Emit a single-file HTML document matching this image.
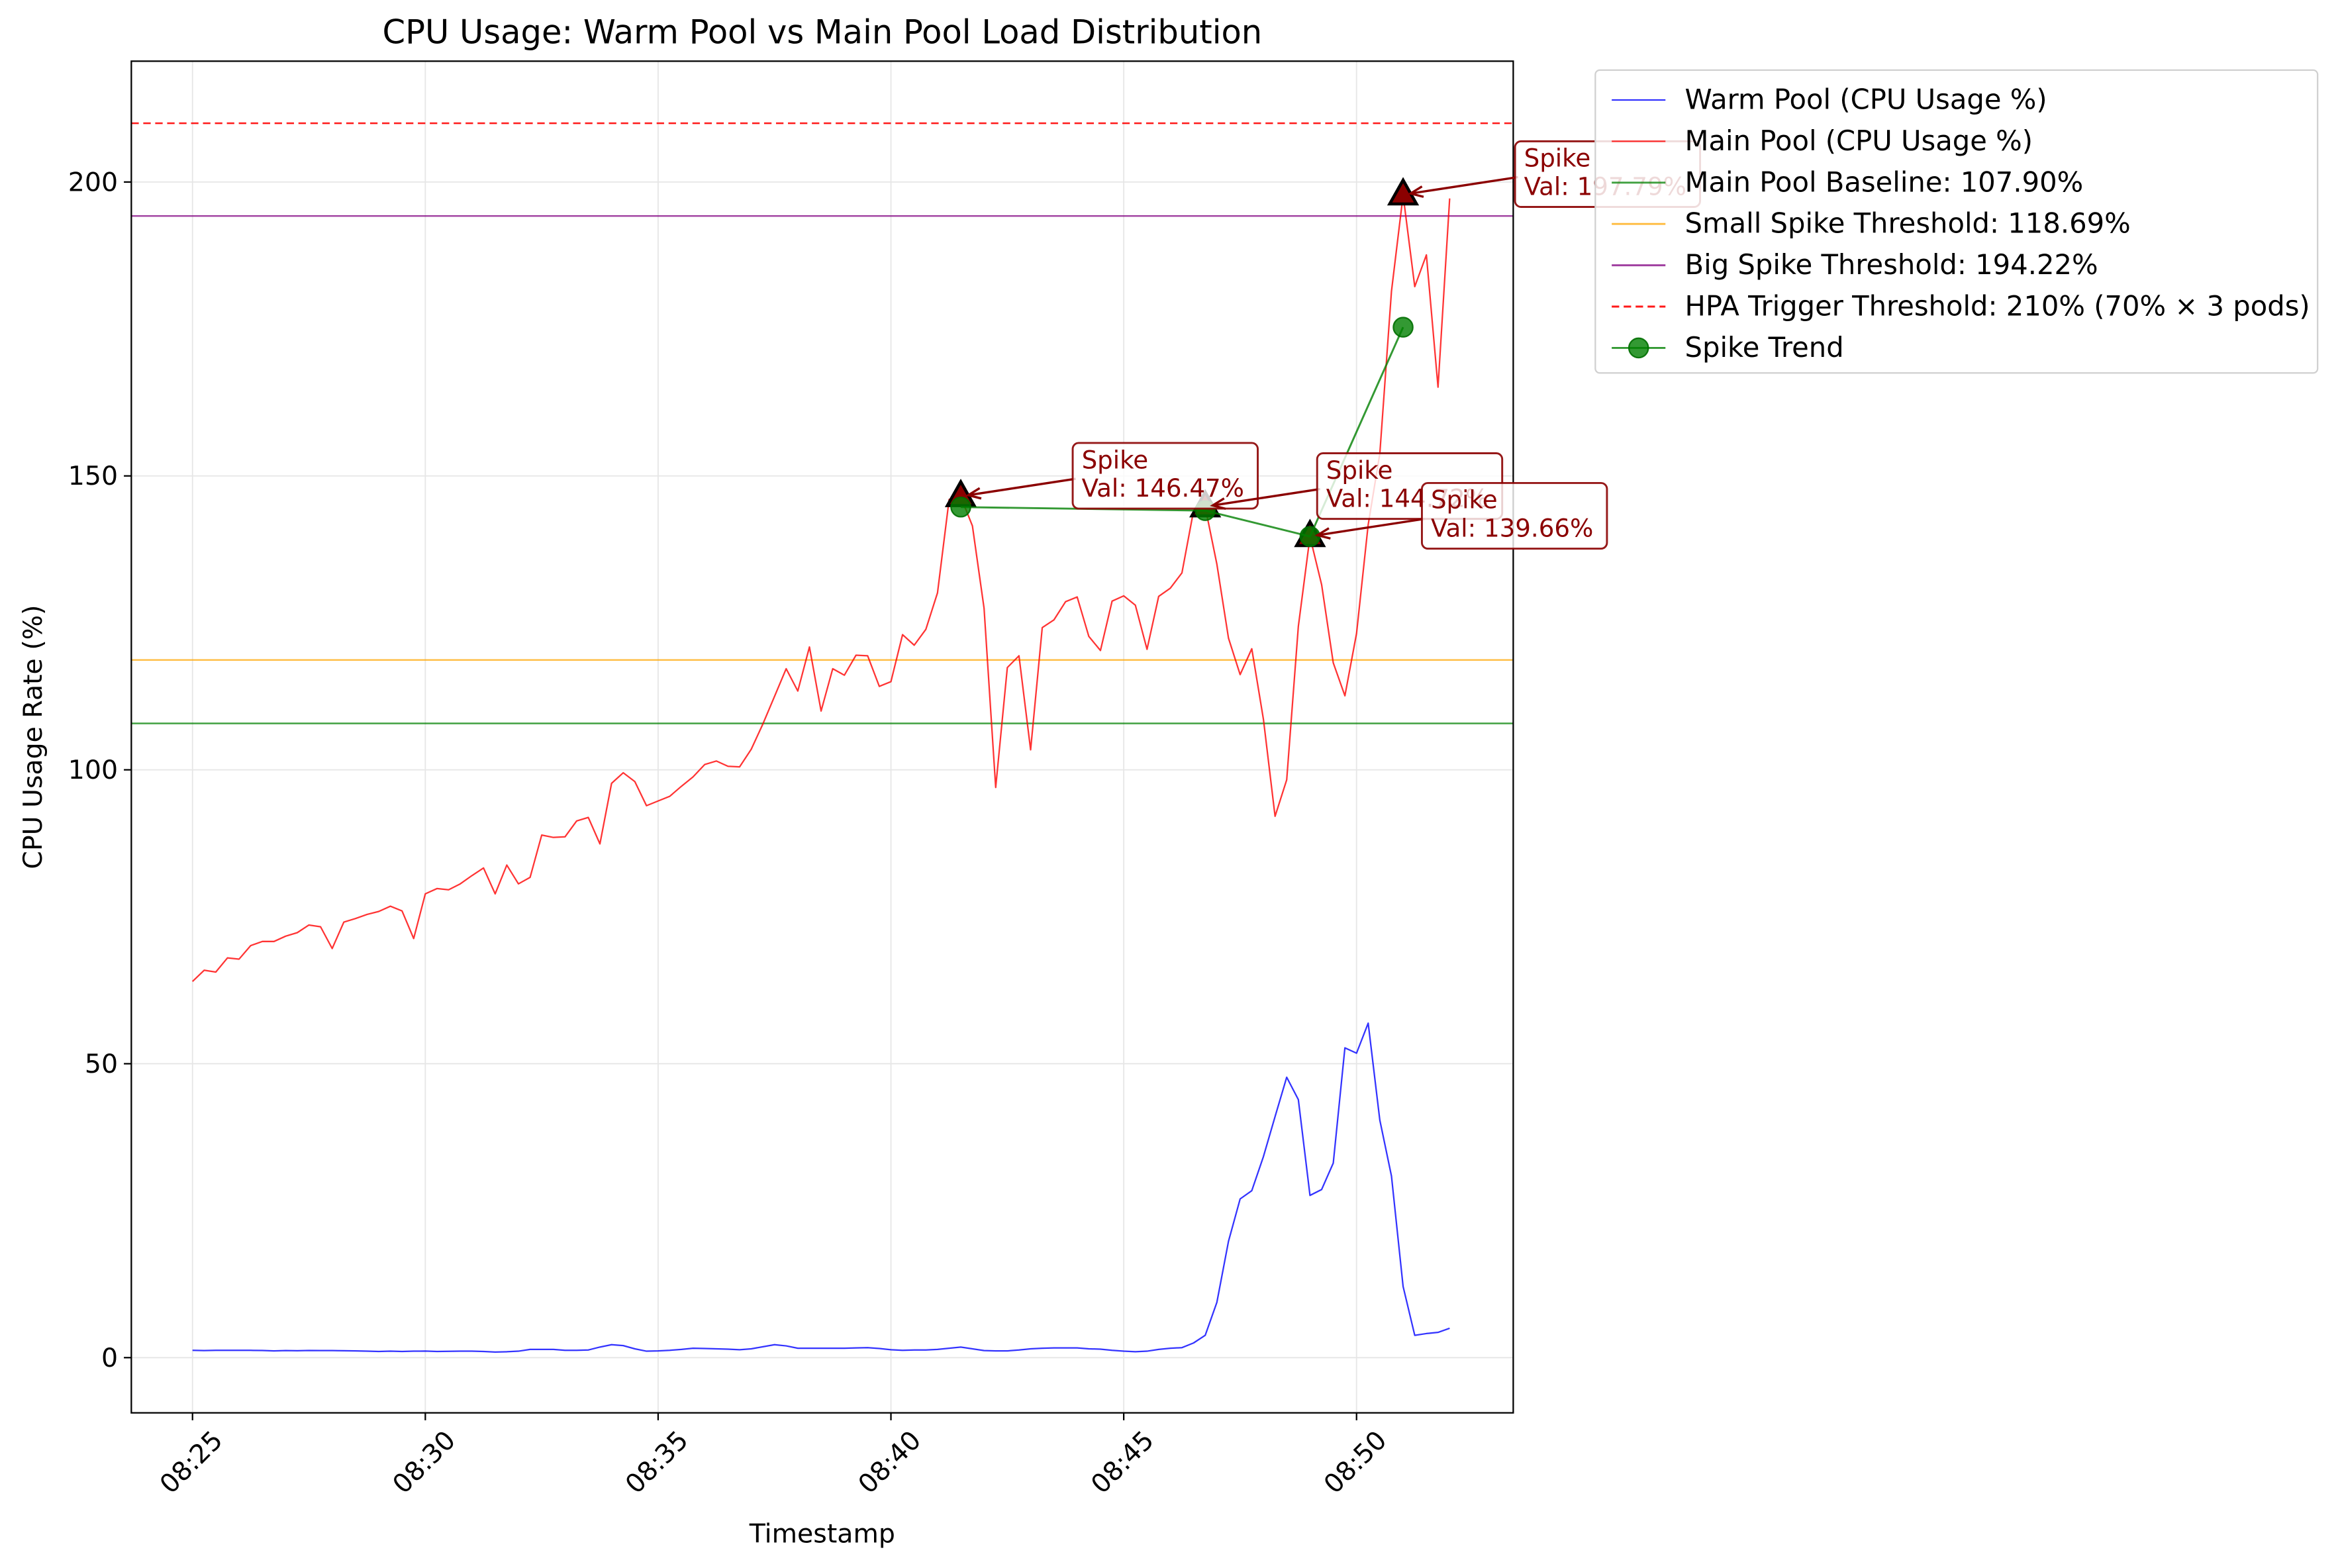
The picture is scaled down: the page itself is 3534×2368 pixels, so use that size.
<!DOCTYPE html>
<html><head><meta charset="utf-8"><style>
html,body{margin:0;padding:0;background:#fff;}
svg{display:block;font-family:"DejaVu Sans","Liberation Sans",sans-serif;}
</style></head>
<body>
<svg id="chart" width="3534" height="2368" viewBox="0 0 1568 1051" preserveAspectRatio="none" xmlns="http://www.w3.org/2000/svg">
<rect width="1568" height="1051" fill="#fff"/>
<g id="grid"></g>
<g id="plot"></g>
<g id="axes"></g>
<g id="annots"></g>
<g id="legend"></g>
</svg>
<script>
const warmPool = [1.24,1.2,1.25,1.25,1.24,1.24,1.22,1.15,1.2,1.18,1.22,
1.2,1.2,1.18,1.15,1.1,1.05,1.1,1.05,1.1,1.12,
1.05,1.08,1.1,1.1,1.05,0.95,1.0,1.1,1.4,1.4,
1.4,1.25,1.25,1.3,1.8,2.2,2.05,1.5,1.1,1.15,
1.25,1.4,1.6,1.55,1.5,1.45,1.35,1.5,1.85,2.2,
2.0,1.6,1.6,1.6,1.6,1.6,1.65,1.7,1.55,1.35,
1.25,1.3,1.3,1.4,1.6,1.8,1.5,1.2,1.15,1.15,
1.3,1.5,1.6,1.65,1.65,1.65,1.5,1.45,1.25,1.1,
1.0,1.1,1.4,1.6,1.7,2.5,3.8,9.4,19.8,27.0,28.4,34.2,41.0,47.7,43.9,27.6,28.6,33.1,52.7,51.8,56.9,40.4,30.9,12.1,3.8,4.1,4.3,5.0];
const mainPool = [64.0,65.9,65.6,68.0,67.8,70.1,70.8,70.8,71.7,72.3,73.6,73.3,69.6,74.1,74.7,75.4,75.9,76.8,76.0,71.3,
78.9,79.8,79.6,80.6,82.0,83.3,78.9,83.8,80.6,81.7,88.9,88.5,88.6,91.3,91.9,87.4,97.7,99.5,98.0,93.9,
94.7,95.5,97.2,98.8,100.9,101.5,100.6,100.5,103.5,
107.8,112.5,117.2,113.4,120.9,110.0,117.2,116.1,119.5,119.4,114.2,
115.0,123.0,121.2,123.9,130.1,146.0,146.47,141.5,127.5,97.0,
117.4,119.4,103.4,124.2,125.5,128.6,129.4,122.7,120.3,128.7,
129.6,128.0,120.5,129.5,130.9,133.5,144.1,144.72,135.0,122.4,
116.2,120.6,108.6,92.1,98.3,124.4,139.66,131.5,118.2,112.6,
123.2,141.7,153.8,181.4,197.79,182.2,187.6,165.1,197.2];
const spikeIdx = [66,87,96,104];
const spikeVals = [146.47,144.72,139.66,197.79];
const trendVals = [144.7,144.1,139.7,175.3];
const thresholds = [107.90,118.69,194.22,210];
const yTicks = [0,50,100,150,200];
const xTickMinutes = [0,5,10,15,20,25];
const xTickLabels = ["08:25","08:30","08:35","08:40","08:45","08:50"];
const intervalMin = 0.25;

const NS="http://www.w3.org/2000/svg";
const L=88,R=1014,T=41,B=947;
const xs = m => 129 + m*31.2;
const ys = v => 910 - v*3.94;
function mk(tag, attrs, parent){const e=document.createElementNS(NS,tag);for(const k in attrs)e.setAttribute(k,attrs[k]);parent.appendChild(e);return e;}
const grid=document.getElementById('grid'),plot=document.getElementById('plot'),axes=document.getElementById('axes'),ann=document.getElementById('annots'),leg=document.getElementById('legend');

xTickMinutes.forEach((m,i)=>{
  const g=mk('line',{x1:xs(m),x2:xs(m),y1:T,y2:B,stroke:'#e6e6e6','stroke-width':0.8},grid);
  
  
  const t=mk('line',{x1:xs(m),x2:xs(m),y1:B,y2:B+5,stroke:'#000','stroke-width':1},axes);
  
  
  const lb=mk('text',{x:xs(m),y:981,'font-size':17.5,'text-anchor':'middle','dominant-baseline':'middle',transform:`rotate(-45 ${xs(m)} 981)`},axes);
  lb.textContent=xTickLabels[i];
  
  
});
yTicks.forEach(v=>{
  const g=mk('line',{x1:L,x2:R,y1:ys(v),y2:ys(v),stroke:'#e6e6e6','stroke-width':0.8},grid);
  
  
  const t=mk('line',{x1:L-5,x2:L,y1:ys(v),y2:ys(v),stroke:'#000','stroke-width':1},axes);
  
  
  const lb=mk('text',{x:L-9,y:ys(v)+6,'font-size':17.5,'text-anchor':'end'},axes);
  lb.textContent=String(v);
  
  
});

const thColors=['rgba(0,128,0,0.75)','rgba(255,165,0,0.75)','rgba(128,0,128,0.75)','rgba(255,0,0,0.9)'];
const thNames=['baseline-line','small-spike-threshold','big-spike-threshold','hpa-trigger-threshold'];
thresholds.forEach((v,i)=>{
  const ln=mk('line',{x1:L,x2:R,y1:ys(v),y2:ys(v),stroke:thColors[i],'stroke-width':1.1},plot);
  if(i===3) ln.setAttribute('stroke-dasharray','5,3');
  
  
});

function pathFor(arr){return arr.map((v,i)=>(i?'L':'M')+xs(i*intervalMin).toFixed(2)+','+ys(v).toFixed(2)).join(' ');}
const bl=mk('path',{d:pathFor(warmPool),fill:'none',stroke:'rgba(0,0,255,0.8)','stroke-width':1,'stroke-linejoin':'round'},plot);


const rl=mk('path',{d:pathFor(mainPool),fill:'none',stroke:'rgba(255,0,0,0.8)','stroke-width':1,'stroke-linejoin':'round'},plot);



spikeIdx.forEach((idx,k)=>{
  const x=xs(idx*intervalMin),y=ys(spikeVals[k]);
  const tr=mk('polygon',{points:`${x},${y-10} ${x-9},${y+6} ${x+9},${y+6}`,fill:'#8b0000',stroke:'#000','stroke-width':2,'stroke-linejoin':'miter'},plot);
  
  
});
const tp=trendVals.map((v,k)=>(k?'L':'M')+xs(spikeIdx[k]*intervalMin)+','+ys(v)).join(' ');
const tl=mk('path',{d:tp,fill:'none',stroke:'rgba(0,128,0,0.8)','stroke-width':1.3},plot);


trendVals.forEach((v,k)=>{
  const c=mk('circle',{cx:xs(spikeIdx[k]*intervalMin),cy:ys(v),r:6.5,fill:'rgba(0,128,0,0.8)',stroke:'rgba(0,110,0,0.9)','stroke-width':1},plot);
  
  
});

spikeIdx.forEach((idx,k)=>{
  const px=xs(idx*intervalMin),py=ys(spikeVals[k]);
  const bx=px+75,by=py-36;
  const ar=mk('line',{x1:bx+2,y1:py-12,x2:px+5,y2:py-1,stroke:'#8b0000','stroke-width':1.5},ann);
  
  
  const ang=Math.atan2((py-1)-(py-12),(px+5)-(bx+2));
  const hx=px+5,hy=py-1,hl=9;
  const hd=mk('path',{d:`M${hx-hl*Math.cos(ang-0.4)},${hy-hl*Math.sin(ang-0.4)} L${hx},${hy} L${hx-hl*Math.cos(ang+0.4)},${hy-hl*Math.sin(ang+0.4)}`,fill:'none',stroke:'#8b0000','stroke-width':1.5},ann);
  
  
  const bxr=mk('rect',{x:bx,y:by,width:124,height:44,rx:4,fill:'rgba(255,255,255,0.8)',stroke:'#8b0000','stroke-opacity':0.9,'stroke-width':1.3},ann);
  
  
  const t1=mk('text',{x:bx+6,y:by+17,'font-size':16.5,fill:'#8b0000'},ann);
  t1.textContent='Spike';
  
  
  const t2=mk('text',{x:bx+6,y:by+36,'font-size':16.5,fill:'#8b0000'},ann);
  t2.textContent='Val: '+spikeVals[k].toFixed(2)+'%';
  
  
});

const fr=mk('rect',{x:L,y:T,width:R-L,height:B-T,fill:'none',stroke:'#000','stroke-width':1},axes);


const ti=mk('text',{x:551,y:29,'font-size':22,'text-anchor':'middle'},axes);
ti.textContent='CPU Usage: Warm Pool vs Main Pool Load Distribution';


const xl=mk('text',{x:551,y:1034,'font-size':17.5,'text-anchor':'middle'},axes);
xl.textContent='Timestamp';


const yl=mk('text',{x:28,y:494,'font-size':17.5,'text-anchor':'middle',transform:'rotate(-90 28 494)'},axes);
yl.textContent='CPU Usage Rate (%)';



const lb=mk('rect',{x:1069,y:47,width:484,height:203,rx:3,fill:'rgba(255,255,255,0.85)',stroke:'#d0d0d0','stroke-width':1},leg);


const legLabels=['Warm Pool (CPU Usage %)','Main Pool (CPU Usage %)','Main Pool Baseline: 107.90%','Small Spike Threshold: 118.69%','Big Spike Threshold: 194.22%','HPA Trigger Threshold: 210% (70% × 3 pods)','Spike Trend'];
const legColors=['rgba(0,0,255,0.8)','rgba(255,0,0,0.8)','rgba(0,128,0,0.75)','rgba(255,165,0,0.75)','rgba(128,0,128,0.75)','rgba(255,0,0,0.9)','rgba(0,128,0,0.8)'];
legLabels.forEach((s,i)=>{
  const y=67+i*27.7;
  const ln=mk('line',{x1:1080,x2:1116,y1:y,y2:y,stroke:legColors[i],'stroke-width':i<2?1:1.3},leg);
  if(i===5) ln.setAttribute('stroke-dasharray','5,3');
  
  
  if(i===6){
    const c=mk('circle',{cx:1098,cy:y,r:6.5,fill:'rgba(0,128,0,0.8)',stroke:'rgba(0,110,0,0.9)','stroke-width':1},leg);
    
    
  }
  const t=mk('text',{x:1129,y:y+6,'font-size':18.5},leg);
  t.textContent=s;
  
  
});
</script>
</body></html>
